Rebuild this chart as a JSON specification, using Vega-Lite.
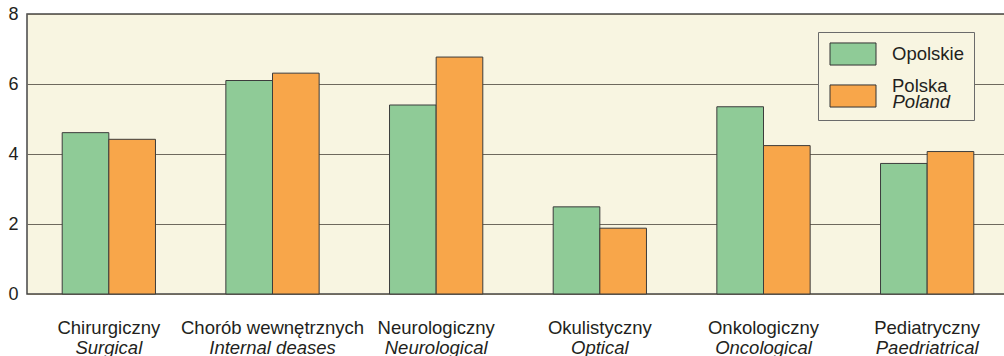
{
  "$schema": "https://vega.github.io/schema/vega-lite/v6.json",
  "width": 982,
  "height": 280,
  "autosize": "none",
  "padding": {"left": 27, "top": 14, "right": 0, "bottom": 62},
  "background": "white",
  "config": {
    "font": "Liberation Sans",
    "view": {"fill": "#F8F5E1", "stroke": "#454545", "strokeWidth": 1.5}
  },
  "data": {
    "values": [
      {"dept": "Chirurgiczny", "region": "Opolskie", "value": 4.61},
      {"dept": "Chirurgiczny", "region": "Polska", "value": 4.42},
      {"dept": "Chorób wewnętrznych", "region": "Opolskie", "value": 6.10},
      {"dept": "Chorób wewnętrznych", "region": "Polska", "value": 6.31},
      {"dept": "Neurologiczny", "region": "Opolskie", "value": 5.40},
      {"dept": "Neurologiczny", "region": "Polska", "value": 6.77},
      {"dept": "Okulistyczny", "region": "Opolskie", "value": 2.49},
      {"dept": "Okulistyczny", "region": "Polska", "value": 1.88},
      {"dept": "Onkologiczny", "region": "Opolskie", "value": 5.35},
      {"dept": "Onkologiczny", "region": "Polska", "value": 4.24},
      {"dept": "Pediatryczny", "region": "Opolskie", "value": 3.73},
      {"dept": "Pediatryczny", "region": "Polska", "value": 4.07}
    ]
  },
  "layer": [
    {
      "mark": {"type": "bar", "stroke": "#3c3c3c", "strokeWidth": 1},
      "encoding": {
        "x": {
          "field": "dept", "type": "nominal", "sort": null,
          "scale": {"paddingInner": 0.43, "paddingOuter": 0.215},
          "axis": {
            "orient": "bottom", "title": null, "domain": false, "ticks": false, "tickSize": 0,
            "labelAngle": 0, "labelFontSize": 18.5, "labelColor": "#231f20",
            "labelBaseline": "alphabetic", "labelPadding": 39, "labelLimit": 400, "labelOverlap": false
          }
        },
        "xOffset": {"field": "region", "type": "nominal", "sort": null, "scale": {"paddingInner": 0, "paddingOuter": 0}},
        "y": {
          "field": "value", "type": "quantitative",
          "scale": {"domain": [0, 8], "nice": false},
          "axis": {
            "title": null, "domain": false, "ticks": false, "tickSize": 0, "values": [0, 2, 4, 6, 8],
            "grid": true, "gridColor": "#6e695d", "gridWidth": 1.2, "gridOpacity": 1,
            "labelFontSize": 18, "labelColor": "#231f20", "labelPadding": 9
          }
        },
        "color": {
          "field": "region", "type": "nominal", "sort": null,
          "scale": {"domain": ["Opolskie", "Polska"], "range": ["#8FCB97", "#F8A64A"]},
          "legend": {
            "orient": "none", "legendX": 791, "legendY": 18, "title": null,
            "fillColor": "#F8F5E1", "strokeColor": "#6b6b6b", "padding": 10,
            "symbolType": "M-2,-0.96H2V0.96H-2Z", "symbolSize": 529,
            "symbolStrokeColor": "#333333", "symbolStrokeWidth": 1, "symbolOpacity": 1,
            "symbolOffset": 13, "labelOffset": 27, "rowPadding": 9,
            "labelFontSize": 18.5, "labelColor": "#231f20",
            "labelBaseline": {"expr": "datum.value == 'Polska' ? 'bottom' : 'middle'"}
          }
        }
      }
    },
    {
      "mark": {"type": "bar", "opacity": 0},
      "encoding": {
        "x": {
          "field": "dept", "type": "nominal", "sort": null,
          "axis": {
            "orient": "bottom", "title": null, "domain": false, "ticks": false, "tickSize": 0, "grid": false,
            "labelAngle": 0, "labelFontSize": 18.5, "labelColor": "#231f20", "labelFontStyle": "italic",
            "labelBaseline": "alphabetic", "labelPadding": 59, "labelLimit": 400, "labelOverlap": false,
            "labelExpr": "datum.label == 'Chirurgiczny' ? 'Surgical' : datum.label == 'Chorób wewnętrznych' ? 'Internal deases' : datum.label == 'Neurologiczny' ? 'Neurological' : datum.label == 'Okulistyczny' ? 'Optical' : datum.label == 'Onkologiczny' ? 'Oncological' : 'Paedriatrical'"
          }
        },
        "y": {"field": "value", "type": "quantitative"},
        "strokeDash": {
          "datum": "Poland",
          "legend": {
            "orient": "none", "legendX": 847, "legendY": 79, "title": null, "padding": 0,
            "symbolOpacity": 0, "symbolSize": 1, "symbolOffset": 0, "labelOffset": 0,
            "labelFontSize": 18.5, "labelColor": "#231f20", "labelFontStyle": "italic"
          }
        }
      }
    }
  ],
  "resolve": {"axis": {"x": "independent"}}
}
